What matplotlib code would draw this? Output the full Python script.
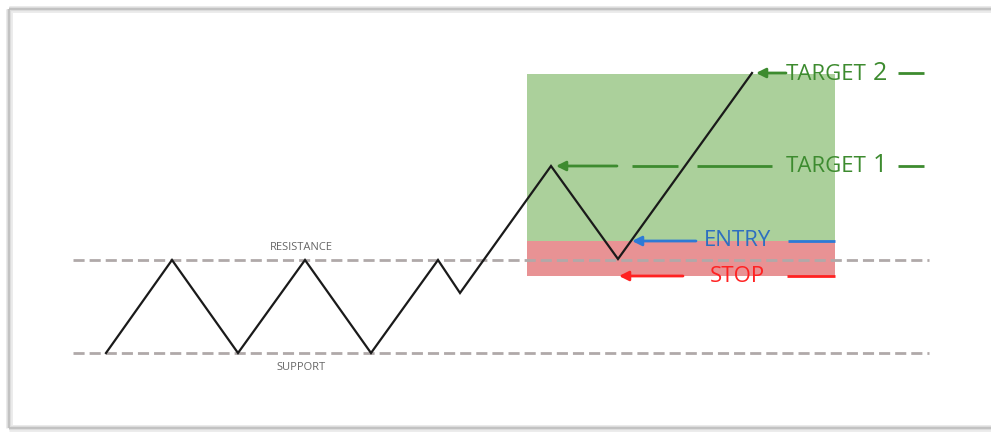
import matplotlib
matplotlib.use("Agg")
import matplotlib.pyplot as plt
from matplotlib.patches import Rectangle

plt.rcParams['font.family'] = ['Open Sans', 'DejaVu Sans']

# ---- data (pixel-space coordinates) ----
price_x = [106, 172, 238, 305, 371, 438, 460, 551, 618, 752]
price_y = [353, 260, 353, 260, 353, 260, 293, 166, 259, 73]

resistance_y = 260
support_y = 353
level_x_range = [73, 929]

target_zone = [527, 835, 74, 241]   # x0, x1, y_top, y_bottom
stop_zone = [527, 835, 241, 276]

target2_y = 73
target1_y = 166
entry_y = 241
stop_y = 276

level_labels = ["TARGET", "TARGET", "ENTRY", "STOP"]
level_digits = ["2", "1", "", ""]

fig = plt.figure(figsize=(9.91, 4.32), dpi=100)
ax = fig.add_axes([0, 0, 1, 1])
ax.set_xlim(0, 991)
ax.set_ylim(432, 0)
ax.axis('off')

# frame with soft shadow
for lw, col in [(5, '#ececec'), (3, '#dcdcdc'), (1.2, '#bdbdbd')]:
    ax.plot([9, 991], [9, 9], color=col, lw=lw, solid_capstyle='butt', zorder=1)
    ax.plot([9, 9], [9, 428], color=col, lw=lw, solid_capstyle='butt', zorder=1)
    ax.plot([9, 991], [428, 428], color=col, lw=lw, solid_capstyle='butt', zorder=1)

# zones
ax.add_patch(Rectangle((target_zone[0], target_zone[2]), target_zone[1] - target_zone[0],
                       target_zone[3] - target_zone[2], facecolor='#abd09b', edgecolor='none', zorder=2))
ax.add_patch(Rectangle((stop_zone[0], stop_zone[2]), stop_zone[1] - stop_zone[0],
                       stop_zone[3] - stop_zone[2], facecolor='#e89294', edgecolor='none', zorder=2))

# support / resistance
for yv in (resistance_y, support_y):
    ax.plot(level_x_range, [yv, yv], color='#b0a9a9', lw=2, dashes=(4, 1.8), zorder=3)
ax.text(301, 247, "RESISTANCE", ha='center', va='center', fontsize=8, color='#666666', zorder=5)
ax.text(301, 367, "SUPPORT", ha='center', va='center', fontsize=8, color='#666666', zorder=5)

# price path
ax.plot(price_x, price_y, color='#1a1a1a', lw=1.6, solid_joinstyle='miter', zorder=4)

green = '#3d8b2f'
blue = '#2d7ad6'
red = '#ff2222'

def arrow(x_head, x_tail, y, color):
    ax.annotate('', xy=(x_head, y), xytext=(x_tail, y),
                arrowprops=dict(arrowstyle='-|>', color=color, lw=2, mutation_scale=14,
                                shrinkA=0, shrinkB=0), zorder=6)

def seg(x0, x1, y, color):
    ax.plot([x0, x1], [y, y], color=color, lw=2, solid_capstyle='butt', zorder=6)

# target 2
arrow(756, 786, target2_y, green)
ax.text(786, target2_y + 1, level_labels[0], ha='left', va='center', fontsize=16, color=green, zorder=6)
ax.text(873, target2_y, level_digits[0], ha='left', va='center', fontsize=18, color=green, zorder=6)
seg(898, 924, target2_y, green)

# target 1
arrow(556, 617, target1_y, green)
seg(632, 678, target1_y, green)
seg(697, 772, target1_y, green)
ax.text(786, target1_y + 1, level_labels[1], ha='left', va='center', fontsize=16, color=green, zorder=6)
ax.text(873, target1_y, level_digits[1], ha='left', va='center', fontsize=18, color=green, zorder=6)
seg(898, 924, target1_y, green)

# entry
arrow(632, 696, entry_y, blue)
ax.text(737, entry_y, level_labels[2], ha='center', va='center', fontsize=16, color='#2e6fc0', zorder=6)
seg(788, 835, entry_y, blue)

# stop
arrow(619, 683, stop_y, red)
ax.text(737, stop_y, level_labels[3], ha='center', va='center', fontsize=16, color=red, zorder=6)
seg(787, 835, stop_y, red)

fig.savefig('out.png', dpi=100)
